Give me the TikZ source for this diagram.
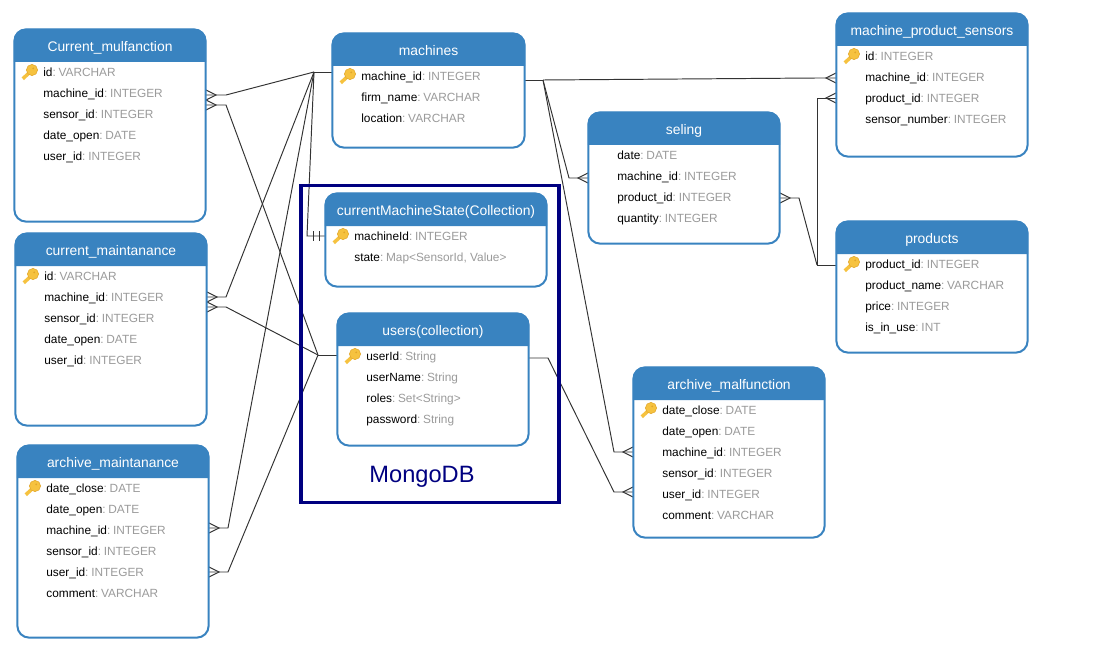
\documentclass[tikz,border=0pt]{standalone}
\usepackage{fontspec}
\setmainfont{Liberation Sans}
\usetikzlibrary{calc,backgrounds}
\definecolor{fhead}{HTML}{3983C0}
\definecolor{ftype}{HTML}{9B9B9B}
\definecolor{fline}{HTML}{333333}
\definecolor{fnavy}{HTML}{000080}
\definecolor{fkey}{HTML}{F6C23F}
\definecolor{fkeyedge}{HTML}{E2A62B}
\newlength{\pxunit}
\setlength{\pxunit}{0.02cm}
% table: name, left, top, width, height, title
\newcommand{\dbtable}[6]{%
  \node[tablebox,minimum width=#4\pxunit-0.8\pxunit,minimum height=#5\pxunit-0.8\pxunit] (#1) at (#2+0.4,#3+0.4) {};
  \fill[fhead] (#2-0.2,#3+33) {[rounded corners=6.6pt] -- (#2-0.2,#3-0.2) -- (#2+#4+0.2,#3-0.2)} -- (#2+#4+0.2,#3+33) -- cycle;
  \node[titletext] (#1_title) at (#2+#4/2,#3+22.5) {#6};
}
% row: name, left, centre line, field, type
\newcommand{\dbfield}[5]{%
  \node[fieldtext] (#1) at (#2,#3+4.4) {#4\textcolor{ftype}{:\kern1.55pt#5}};
}
% three prongs at a table edge, #2 is the side the link comes from
\newcommand{\crowfoot}[2]{%
  \draw[link] ($(#1)+(0,-5.2)$) -- ($(#1)+(#2*10.5,0)$) -- ($(#1)+(0,5.2)$);
}
\begin{document}
\begin{tikzpicture}[x=\pxunit,y=-\pxunit,font=\fontsize{6.75pt}{8pt}\selectfont,
  tablebox/.style={draw=fhead,fill=white,line width=1.15pt,rounded corners=6.6pt,anchor=north west,inner sep=0pt,outer sep=0pt},
  titletext/.style={text=white,font=\fontsize{7.9pt}{9pt}\selectfont,anchor=base,inner sep=0pt},
  fieldtext/.style={anchor=base west,inner sep=0pt},
  link/.style={draw=fline,line width=0.55pt},
  keyicon/.pic={
    \draw[fkey,line width=2pt] (-6.2,6.8) -- (1,0);
    \fill[fkey,draw=fkeyedge,line width=0.3pt] (3,-2) circle [radius=5.6];
    \fill[fkeyedge] (4.2,-3.6) circle [radius=1];
  }]
\useasboundingbox (0,0) rectangle (1103,652);

% ================= mongodb frame =================
\node[draw=fnavy,line width=1.75pt,anchor=north west,inner sep=0pt,outer sep=0pt,
  minimum width=258\pxunit,minimum height=317\pxunit] (mongo) at (301,185.6) {};
\node[text=fnavy,font=\fontsize{13.45pt}{15pt}\selectfont,inner sep=0pt] (mongo_label) at (422,477) {MongoDB};

% ================= tables =================
\dbtable{cmal}{14}{29}{192}{193}{Current\_mulfanction}
\pic at (29,72) {keyicon};
\dbfield{cmal_id}{43}{72}{id}{VARCHAR}
\dbfield{cmal_machine}{43}{93}{machine\_id}{INTEGER}
\dbfield{cmal_sensor}{43}{114}{sensor\_id}{INTEGER}
\dbfield{cmal_open}{43}{135}{date\_open}{DATE}
\dbfield{cmal_user}{43}{156}{user\_id}{INTEGER}

\dbtable{cmnt}{15}{233}{192}{193}{current\_maintanance}
\pic at (30,276) {keyicon};
\dbfield{cmnt_id}{44}{276}{id}{VARCHAR}
\dbfield{cmnt_machine}{44}{297}{machine\_id}{INTEGER}
\dbfield{cmnt_sensor}{44}{318}{sensor\_id}{INTEGER}
\dbfield{cmnt_open}{44}{339}{date\_open}{DATE}
\dbfield{cmnt_user}{44}{360}{user\_id}{INTEGER}

\dbtable{amnt}{17}{445}{192}{193}{archive\_maintanance}
\pic at (32,488) {keyicon};
\dbfield{amnt_close}{46}{488}{date\_close}{DATE}
\dbfield{amnt_open}{46}{509}{date\_open}{DATE}
\dbfield{amnt_machine}{46}{530}{machine\_id}{INTEGER}
\dbfield{amnt_sensor}{46}{551}{sensor\_id}{INTEGER}
\dbfield{amnt_user}{46}{572}{user\_id}{INTEGER}
\dbfield{amnt_comment}{46}{593}{comment}{VARCHAR}

\dbtable{machines}{332}{33}{193}{115}{machines}
\pic at (347,76) {keyicon};
\dbfield{machines_id}{361}{76}{machine\_id}{INTEGER}
\dbfield{machines_firm}{361}{97}{firm\_name}{VARCHAR}
\dbfield{machines_loc}{361}{118}{location}{VARCHAR}

\dbtable{state}{325}{193}{222}{94}{currentMachineState(Collection)}
\pic at (340,236) {keyicon};
\dbfield{state_id}{354}{236}{machineId}{INTEGER}
\dbfield{state_map}{354}{257}{state}{Map<SensorId, Value>}

\dbtable{users}{337}{313}{192}{133}{users(collection)}
\pic at (352,356) {keyicon};
\dbfield{users_id}{366}{356}{userId}{String}
\dbfield{users_name}{366}{377}{userName}{String}
\dbfield{users_roles}{366}{398}{roles}{Set<String>}
\dbfield{users_pass}{366}{419}{password}{String}

\dbtable{seling}{588}{112}{192}{132}{seling}
\dbfield{seling_date}{617}{155}{date}{DATE}
\dbfield{seling_machine}{617}{176}{machine\_id}{INTEGER}
\dbfield{seling_product}{617}{197}{product\_id}{INTEGER}
\dbfield{seling_qty}{617}{218}{quantity}{INTEGER}

\dbtable{sensors}{836}{13}{192}{144}{machine\_product\_sensors}
\pic at (851,56) {keyicon};
\dbfield{sensors_id}{865}{56}{id}{INTEGER}
\dbfield{sensors_machine}{865}{77}{machine\_id}{INTEGER}
\dbfield{sensors_product}{865}{98}{product\_id}{INTEGER}
\dbfield{sensors_number}{865}{119}{sensor\_number}{INTEGER}

\dbtable{products}{836}{221}{192}{132}{products}
\pic at (851,264) {keyicon};
\dbfield{products_id}{865}{264}{product\_id}{INTEGER}
\dbfield{products_name}{865}{285}{product\_name}{VARCHAR}
\dbfield{products_price}{865}{306}{price}{INTEGER}
\dbfield{products_use}{865}{327}{is\_in\_use}{INT}

\dbtable{amal}{633}{367}{192}{171}{archive\_malfunction}
\pic at (648,410) {keyicon};
\dbfield{amal_close}{662}{410}{date\_close}{DATE}
\dbfield{amal_open}{662}{431}{date\_open}{DATE}
\dbfield{amal_machine}{662}{452}{machine\_id}{INTEGER}
\dbfield{amal_sensor}{662}{473}{sensor\_id}{INTEGER}
\dbfield{amal_user}{662}{494}{user\_id}{INTEGER}
\dbfield{amal_comment}{662}{515}{comment}{VARCHAR}

% ================= links, under the frame and the tables =================
\coordinate (machines_w) at (machines.west |- 0,72);
\coordinate (machines_e) at (machines.east |- 0,80);
\coordinate (hub_w) at (314,72);
\coordinate (hub_e) at (543,80);
\coordinate (users_w) at (users.west |- 0,355);
\coordinate (users_e) at (users.east |- 0,358);
\coordinate (hub_users) at (318,355);
\coordinate (products_w) at (products.west |- 0,265);
\coordinate (hub_products) at (817,265);
\coordinate (cmal_a) at (cmal.east |- 0,95);
\coordinate (cmal_b) at (cmal.east |- 0,105);
\coordinate (cmnt_a) at (cmnt.east |- 0,297);
\coordinate (cmnt_b) at (cmnt.east |- 0,307);
\coordinate (amnt_a) at (amnt.east |- 0,528);
\coordinate (amnt_b) at (amnt.east |- 0,572);
\coordinate (state_w) at (state.west |- 0,236);
\coordinate (seling_w) at (seling.west |- 0,178);
\coordinate (seling_e) at (seling.east |- 0,198);
\coordinate (amal_a) at (amal.west |- 0,452);
\coordinate (amal_b) at (amal.west |- 0,492);
\coordinate (sensors_a) at (sensors.west |- 0,78);
\coordinate (sensors_b) at (sensors.west |- 0,98);
\begin{scope}[on background layer]
  \draw[link] (machines_w) -- (hub_w);
  \draw[link] (hub_w) -- (226,95) -- (cmal_a);
  \draw[link] (hub_w) -- (226,297) -- (cmnt_a);
  \draw[link] (hub_w) -- (228,528) -- (amnt_a);
  \draw[link] (hub_w) -- (307,236) -- (state_w);
  \draw[link] (313,231) -- (313,241);
  \draw[link] (319,231) -- (319,241);
  \draw[link] (users_w) -- (hub_users);
  \draw[link] (hub_users) -- (226,105) -- (cmal_b);
  \draw[link] (hub_users) -- (226,307) -- (cmnt_b);
  \draw[link] (hub_users) -- (228,572) -- (amnt_b);
  \draw[link] (machines_e) -- (hub_e);
  \draw[link] (hub_e) -- (569,178) -- (seling_w);
  \draw[link] (hub_e) -- (614,452) -- (amal_a);
  \draw[link] (hub_e) -- (817,78) -- (sensors_a);
  \draw[link] (users_e) -- (548,358) -- (614,492) -- (amal_b);
  \draw[link] (products_w) -- (hub_products);
  \draw[link] (hub_products) -- (817,98) -- (sensors_b);
  \draw[link] (hub_products) -- (799,198) -- (seling_e);
  \crowfoot{cmal_a}{1}
  \crowfoot{cmal_b}{1}
  \crowfoot{cmnt_a}{1}
  \crowfoot{cmnt_b}{1}
  \crowfoot{amnt_a}{1}
  \crowfoot{amnt_b}{1}
  \crowfoot{seling_w}{-1}
  \crowfoot{seling_e}{1}
  \crowfoot{amal_a}{-1}
  \crowfoot{amal_b}{-1}
  \crowfoot{sensors_a}{-1}
  \crowfoot{sensors_b}{-1}
\end{scope}
\end{tikzpicture}
\end{document}
